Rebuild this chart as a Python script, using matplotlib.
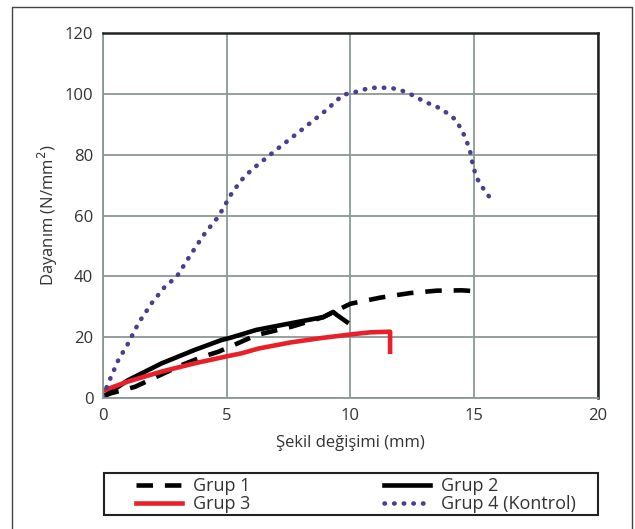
## Dayanım - şekil değişimi eğrileri
import matplotlib.pyplot as plt
from matplotlib.lines import Line2D
from matplotlib.patches import Rectangle

plt.rcParams['font.family'] = ['Open Sans', 'DejaVu Sans']

# Grup 1 (kesikli)
g1_x = [0, 0.3, 1.3, 2.3, 3.2, 4.0, 4.66, 5.45, 6.2, 7.6, 8.9, 10.0, 11.2, 12.4, 13.5, 14.5, 15.3]
g1_y = [0.5, 1.5, 3.7, 7.5, 10.9, 13.5, 15.2, 18, 20.7, 23.4, 26.6, 31, 33, 34.5, 35.3, 35.4, 35]

# Grup 2 (düz siyah)
g2_x = [0, 0.08, 1.02, 2.37, 3.7, 4.8, 5.1, 6.2, 7.6, 8.9, 9.3, 9.45, 9.85]
g2_y = [0.5, 0.8, 5.9, 11.4, 15.8, 19.1, 19.7, 22.4, 24.6, 26.6, 28.3, 27.3, 25]

# Grup 3 (kırmızı)
g3_x = [0, 1.0, 2.37, 3.7, 5.0, 5.6, 6.3, 7.6, 8.8, 10.0, 10.8, 11.6, 11.6]
g3_y = [2.4, 5.4, 8.7, 11.4, 13.7, 14.7, 16.3, 18.3, 19.7, 20.9, 21.6, 21.8, 15.2]

# Grup 4 (Kontrol, noktalı)
g4_x = [0, 0.21, 0.62, 1.02, 1.43, 1.97, 2.5, 2.98, 3.58, 4.12, 4.66, 5.2, 5.6, 6.0, 7.0,
        8.0, 9.0, 9.7, 10.06, 10.8, 11.6, 12.0, 12.4, 13.0, 13.5, 13.9, 14.2, 14.5,
        14.75, 14.87, 14.95, 15.15, 15.4, 15.76]
g4_y = [0.5, 4.8, 12.5, 18, 24.6, 31.2, 36.6, 39.9, 47.6, 54.2, 59.6, 67.3, 71.7, 75, 81.6,
        88, 94.5, 99.7, 100.3, 102, 102, 101.3, 100, 97.4, 95.7, 93.7, 91.8, 88.2,
        83.2, 80, 76, 71.7, 68.4, 64.5]

x_ticks = [0, 5, 10, 15, 20]
y_ticks = [0, 20, 40, 60, 80, 100, 120]

text_col = '#333333'
grid_col = '#8a9995'

fig = plt.figure(figsize=(6.35, 5.29), dpi=100)
ax = fig.add_axes([0.1622, 0.2476, 0.7795, 0.69])

l1, = ax.plot(g1_x, g1_y, color='black', lw=3.3, linestyle=(0, (3.6, 2.6)), label='Grup 1')
l2, = ax.plot(g2_x, g2_y, color='black', lw=3.3, label='Grup 2')
l3, = ax.plot(g3_x, g3_y, color='#e8202a', lw=3.3, label='Grup 3')
l4, = ax.plot(g4_x, g4_y, color='#4a3f8f', lw=3.3, linestyle=(0, (0.1, 2.0)),
              dash_capstyle='round', label='Grup 4 (Kontrol)')

ax.set_xlim(0, 20)
ax.set_ylim(0, 120)
ax.set_xticks(x_ticks)
ax.set_yticks(y_ticks)
ax.grid(True, color=grid_col, lw=1.3)
ax.set_axisbelow(True)
ax.tick_params(length=0, labelsize=12, labelcolor=text_col, pad=7)
for s in ['left', 'bottom']:
    ax.spines[s].set_color(grid_col)
    ax.spines[s].set_linewidth(1.3)
for s in ['top', 'right']:
    ax.spines[s].set_color('#222222')
    ax.spines[s].set_linewidth(1.8)

ax.set_xlabel('Şekil değişimi (mm)', fontsize=12, color=text_col, labelpad=8)
ax.set_ylabel('Dayanım (N/mm$^2$)', fontsize=12, color=text_col, labelpad=3)

leg = fig.legend([l1, l3, l2, l4], ['Grup 1', 'Grup 3', 'Grup 2', 'Grup 4 (Kontrol)'],
                 ncol=2, loc='upper left', bbox_to_anchor=(136/635, 1 - 477/529),
                 frameon=False, fontsize=13, handlelength=2.55, handletextpad=0.6,
                 labelspacing=0.0, borderpad=0, borderaxespad=0, columnspacing=7.4,
                 labelcolor=text_col)

# legend box
fig.add_artist(Rectangle((104/635, 1 - 515/529), 494/635, 42/529, transform=fig.transFigure,
                         fill=False, edgecolor='#222222', lw=1.5))

# outer frame
fig.add_artist(Line2D([12/635, 12/635, 632/635, 632/635], [0, 1 - 7/529, 1 - 7/529, 0],
                      transform=fig.transFigure, color='#444444', lw=1))

fig.savefig('out.png', dpi=100)
